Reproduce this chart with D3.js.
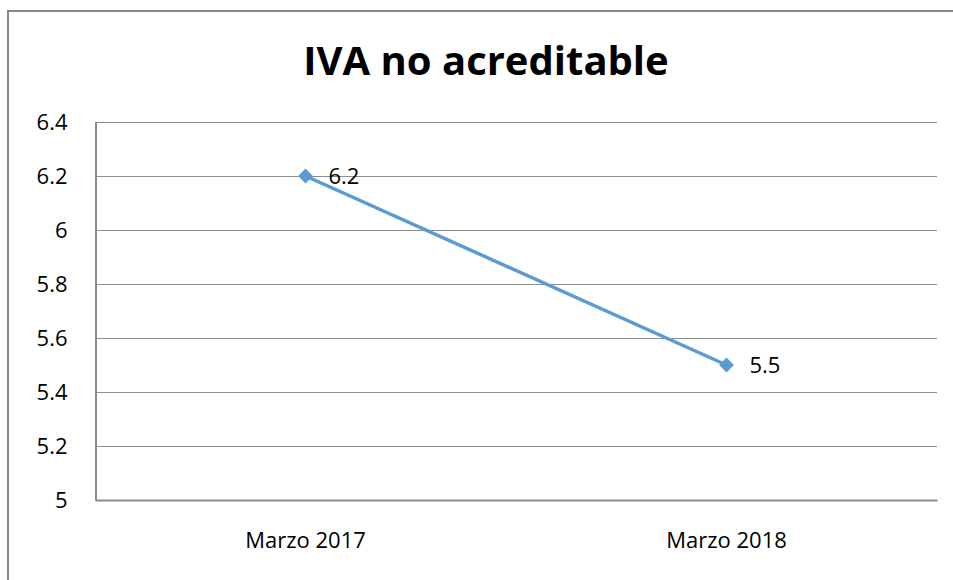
<!DOCTYPE html>
<html>
<head>
<meta charset="utf-8">
<script src="https://cdn.jsdelivr.net/npm/d3@7"></script>
<style>
  body { margin: 0; background: #fff; }
  svg text { font-family: "Open Sans", sans-serif; fill: #000; }
</style>
</head>
<body>
<div id="chart"></div>
<script>
/* data */
var categories = ["Marzo 2017", "Marzo 2018"]
var values = [6.2, 5.5]
var yTicks = [5, 5.2, 5.4, 5.6, 5.8, 6, 6.2, 6.4]
var title = "IVA no acreditable"

/* layout */
var W = 953, H = 580
var plot = { left: 95, right: 937, top: 122, bottom: 500 }
var lineColor = "#5B9BD5"
var gridColor = "#8c8c8c"
var labelFont = "22px"

var svg = d3.select("#chart").append("svg")
    .attr("width", W)
    .attr("height", H)

/* outer chart border (cropped on right and bottom) */
svg.append("rect")
    .attr("x", 8)
    .attr("y", 11)
    .attr("width", W + 20)
    .attr("height", H + 20)
    .attr("fill", "none")
    .attr("stroke", "#888")
    .attr("stroke-width", 2)

svg.append("text")
    .attr("x", 486)
    .attr("y", 75)
    .attr("text-anchor", "middle")
    .style("font-size", "40px")
    .style("font-weight", "bold")
    .text(title)

var x = d3.scaleBand()
    .domain(categories)
    .range([plot.left, plot.right])

var y = d3.scaleLinear()
    .domain([5, 6.4])
    .range([plot.bottom, plot.top])

/* gridlines */
svg.append("g")
  .selectAll("line")
  .data(yTicks.filter(function(d) { return d > 5 }))
  .join("line")
    .attr("x1", plot.left)
    .attr("x2", plot.right)
    .attr("y1", function(d) { return Math.round(y(d)) + 0.5 })
    .attr("y2", function(d) { return Math.round(y(d)) + 0.5 })
    .attr("stroke", gridColor)
    .attr("stroke-width", 1)

/* y axis */
var yAxis = svg.append("g")
    .attr("transform", "translate(" + (plot.left + 0.5) + ",0)")
    .call(d3.axisLeft(y).tickValues(yTicks).tickSize(0).tickPadding(28)
      .tickFormat(function(d) { return d3.format("")(+d.toFixed(1)) }))
yAxis.select(".domain").attr("stroke", gridColor).attr("stroke-width", 2)
yAxis.selectAll("text")
    .style("font-size", labelFont)
    .style("font-family", "'Open Sans', sans-serif")
    .attr("fill", "#000")

/* x axis */
var xAxis = svg.append("g")
    .attr("transform", "translate(0," + plot.bottom + ")")
    .call(d3.axisBottom(x).tickSize(0).tickPadding(32))
xAxis.select(".domain").attr("stroke", gridColor).attr("stroke-width", 2)
xAxis.selectAll("text")
    .style("font-size", labelFont)
    .style("font-family", "'Open Sans', sans-serif")
    .attr("fill", "#000")

var pts = categories.map(function(c, i) { return { cat: c, v: values[i] } })
var cx = function(d) { return x(d.cat) + x.bandwidth() / 2 }

/* line */
var line = d3.line()
    .x(cx)
    .y(function(d) { return y(d.v) })
svg.append("path")
    .attr("d", line(pts))
    .attr("fill", "none")
    .attr("stroke", lineColor)
    .attr("stroke-width", 3.5)

/* diamond markers */
svg.selectAll(".marker")
  .data(pts)
  .join("path")
    .attr("class", "marker")
    .attr("d", d3.symbol(d3.symbolDiamond2, 140)())
    .attr("transform", function(d) { return "translate(" + cx(d) + "," + y(d.v) + ")" })
    .attr("fill", lineColor)

/* data labels */
svg.selectAll(".dlabel")
  .data(pts)
  .join("text")
    .attr("class", "dlabel")
    .attr("x", function(d) { return cx(d) + 23 })
    .attr("y", function(d) { return y(d.v) + 8 })
    .style("font-size", labelFont)
    .text(function(d) { return d.v })
</script>
</body>
</html>
